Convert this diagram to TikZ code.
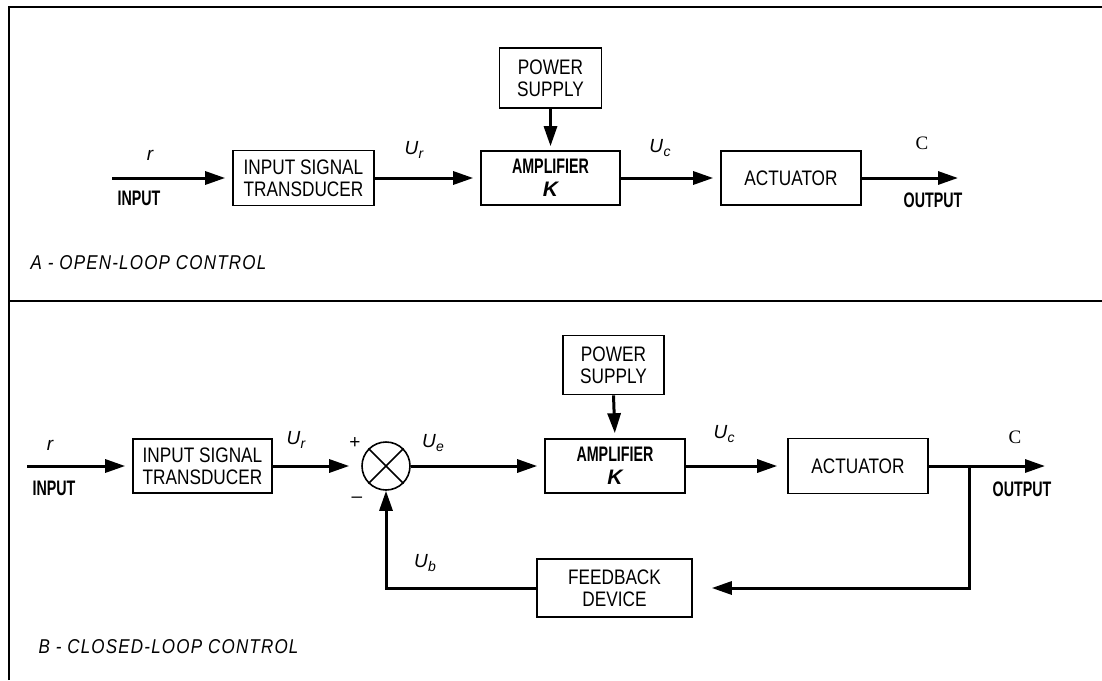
\documentclass[tikz,border=0pt]{standalone}
\usepackage{fontspec}
\setmainfont[FakeStretch=0.82]{Liberation Sans}
\newfontfamily\narrowfont[FakeStretch=0.68]{Liberation Sans}
\newfontfamily\capfont[FakeStretch=0.85,LetterSpace=6]{Liberation Sans}
\newfontfamily\labfont{Liberation Sans}
\newfontfamily\serffont{Liberation Serif}
\usetikzlibrary{arrows.meta}
\newcommand{\sigl}[2]{{\labfont\itshape #1\kern0.3pt\raisebox{-0.45ex}{\fontsize{14}{14}\selectfont #2}}}
\tikzset{
  every node/.style={font=\fontsize{21}{22}\selectfont},
  blk/.style={draw, line width=1.6pt, align=center, inner sep=0pt},
  sigarrow/.style={line width=3pt, -{Triangle[length=20pt,width=13pt]}, shorten >=7pt},
  frame/.style={line width=2.4pt},
  caption/.style={anchor=west, font=\fontsize{20}{22}\selectfont\capfont\itshape},
  lbl/.style={inner sep=0pt, font=\fontsize{19}{22}\selectfont\labfont},
  nlbl/.style={inner sep=0pt, font=\fontsize{21}{22}\selectfont\narrowfont\bfseries},
}
\begin{document}
\begin{tikzpicture}[x=1pt,y=-1pt]
\useasboundingbox (0,0) rectangle (1102,680);
% frame
\draw[frame] (9,680) -- (9,7) -- (1102,7);
\draw[frame] (9,301) -- (1102,301);

% ---------- Panel A ----------
\coordinate (inA) at (112,178);
\node[blk, minimum width=141pt, minimum height=55pt] (tA) at (303.5,178) {INPUT SIGNAL\\TRANSDUCER};
\node[blk, minimum width=139pt, minimum height=54pt] (ampA) at (550.5,178) {{\narrowfont\bfseries AMPLIFIER}\\[1pt]{\labfont\bfseries\itshape K}};
\node[blk, minimum width=102pt, minimum height=60pt] (psA) at (550.5,78) {POWER\\SUPPLY};
\node[blk, minimum width=140pt, minimum height=54pt] (actA) at (791,178) {ACTUATOR};
\coordinate (outA) at (965,178);

\draw[sigarrow] (inA) -- (tA.west);
\draw[sigarrow] (tA.east) -- (ampA.west);
\draw[sigarrow, shorten >=4pt] (psA.south) -- (ampA.north);
\draw[sigarrow] (ampA.east) -- (actA.west);
\draw[sigarrow] (actA.east) -- (outA);

\node[lbl] (rA) at (150,155) {\itshape r};
\node[nlbl] (inlA) at (139,198) {INPUT};
\node[lbl] (urA) at (414,150) {\sigl{U}{r}};
\node[lbl] (ucA) at (660,148) {\sigl{U}{c}};
\node[lbl] (cA) at (922,143) {\serffont C};
\node[nlbl] (outlA) at (933,200) {OUTPUT};
\node[caption] (capA) at (27,263) {A - OPEN-LOOP CONTROL};

% ---------- Panel B ----------
\coordinate (inB) at (27,466);
\node[blk, minimum width=139pt, minimum height=54pt] (tB) at (202.5,466) {INPUT SIGNAL\\TRANSDUCER};
\node[circle, draw, line width=1.6pt, minimum size=48pt, inner sep=0pt] (sum) at (386,466) {};
\draw[line width=1.6pt] (sum.north west) -- (sum.south east);
\draw[line width=1.6pt] (sum.north east) -- (sum.south west);
\node[blk, minimum width=140pt, minimum height=54pt] (ampB) at (615,466) {{\narrowfont\bfseries AMPLIFIER}\\[1pt]{\labfont\bfseries\itshape K}};
\node[blk, minimum width=101pt, minimum height=59pt] (psB) at (613.5,365) {POWER\\SUPPLY};
\node[blk, minimum width=140pt, minimum height=55pt] (actB) at (858,466) {ACTUATOR};
\coordinate (outB) at (1052,466);
\coordinate (br) at (969,466);
\node[blk, minimum width=155pt, minimum height=58pt] (fbB) at (614.5,588) {FEEDBACK\\DEVICE};

\draw[sigarrow] (inB) -- (tB.west);
\draw[sigarrow, shorten >=12pt] (tB.east) -- (sum.west);
\draw[sigarrow] (sum.east) -- (ampB.west);
\draw[sigarrow, shorten >=5pt] (psB.south) -- (ampB.north);
\draw[sigarrow, shorten >=10pt] (ampB.east) -- (actB.west);
\draw[sigarrow] (actB.east) -- (outB);
\draw[sigarrow, shorten >=19pt] (br) |- (fbB.east);
\draw[sigarrow, shorten >=0pt] (fbB.west) -| (sum.south);

\node[lbl] (rB) at (50,445) {\itshape r};
\node[nlbl] (inlB) at (54,488) {INPUT};
\node[lbl] (urB) at (296,440) {\sigl{U}{r}};
\node[lbl] (plus) at (355,443) {+};
\node[lbl] (minus) at (357,500) {\textendash};
\node[lbl] (ueB) at (433,443) {\sigl{U}{e}};
\node[lbl] (ucB) at (724,434) {\sigl{U}{c}};
\node[lbl] (cB) at (1015,437) {\serffont C};
\node[nlbl] (outlB) at (1022,489) {OUTPUT};
\node[lbl] (ubB) at (425,563) {\sigl{U}{b}};
\node[caption] (capB) at (35,647) {B - CLOSED-LOOP CONTROL};
\end{tikzpicture}
\end{document}
